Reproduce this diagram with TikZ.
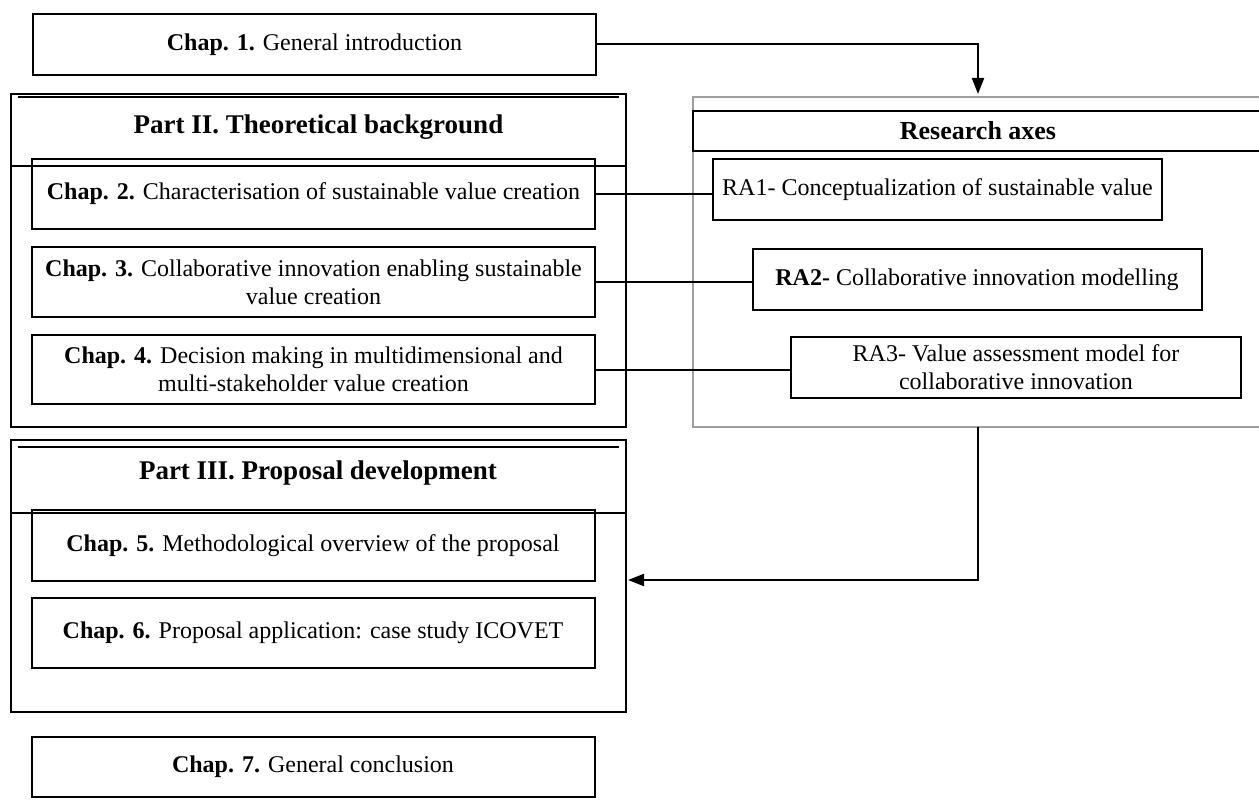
\documentclass[tikz,border=0pt]{standalone}
\usepackage{fontspec}
\setmainfont{Liberation Serif}
\usetikzlibrary{arrows.meta}

\begin{document}
\begin{tikzpicture}[x=1pt,y=-1pt,
  chapbox/.style={draw,line width=2pt,minimum width=563pt,inner sep=0pt,
    align=center,font=\fontsize{24}{28}\selectfont},
  axisbox/.style={draw,line width=2pt,minimum width=449pt,minimum height=61pt,
    inner sep=0pt,align=center,font=\fontsize{24}{28}\selectfont},
  partframe/.style={draw,line width=2pt,minimum width=615pt,inner sep=0pt},
  parttitle/.style={font=\bfseries\fontsize{27}{32}\selectfont},
  link/.style={line width=2pt},
  flow/.style={line width=2pt,-{Triangle[length=16pt,width=12pt]}}]
\useasboundingbox (0,0) rectangle (1259,800);
    % Part frames
\node[partframe,minimum height=333pt] (p2) at (318.5,260.5) {};
\draw[line width=2pt] ([xshift=8pt,yshift=-4pt]p2.north west) -- ([xshift=-8pt,yshift=-4pt]p2.north east);
\draw[link] ([yshift=-73pt]p2.north west) -- ([yshift=-73pt]p2.north east);
\node[parttitle] (p2title) at (318.5,127) {Part II. Theoretical background};
\node[partframe,minimum height=272pt] (p3) at (318.5,576) {};
\draw[line width=2pt] ([xshift=8pt,yshift=-8pt]p3.north west) -- ([xshift=-8pt,yshift=-8pt]p3.north east);
\draw[link] ([yshift=-74pt]p3.north west) -- ([yshift=-74pt]p3.north east);
\node[parttitle] (p3title) at (318,473) {Part III. Proposal development};
    % Research axes frame
\node[draw=gray!75,line width=1.6pt,minimum width=580pt,minimum height=330pt,inner sep=0pt] (axes) at (983,262) {};
\node[draw,line width=2pt,minimum width=570pt,minimum height=40pt,inner sep=0pt,
  font=\bfseries\fontsize{26}{30}\selectfont] (axhead) at (978,131) {Research axes};
    % Chapters
\node[chapbox,minimum height=61pt] (ch1) at (314.5,44.5) {\textbf{Chap. 1.} General introduction};
\node[chapbox,minimum height=70pt] (ch2) at (313.5,194) {\textbf{Chap. 2.} Characterisation of sustainable value creation};
\node[chapbox,minimum height=70pt] (ch3) at (313.5,282) {\textbf{Chap. 3.} Collaborative innovation enabling sustainable\\value creation};
\node[chapbox,minimum height=69pt] (ch4) at (313.5,369.5) {\textbf{Chap. 4.} Decision making in multidimensional and\\multi-stakeholder value creation};
\node[chapbox,minimum height=71pt] (ch5) at (313,545.5) {\textbf{Chap. 5.} Methodological overview of the proposal};
\node[chapbox,minimum height=70pt] (ch6) at (313,633) {\textbf{Chap. 6.} Proposal application: case study ICOVET};
\node[chapbox,minimum height=60pt] (ch7) at (313,767) {\textbf{Chap. 7.} General conclusion};
    % Research axes
\node[axisbox] (ra1) at (937.5,189.5) {RA1- Conceptualization of sustainable value};
\node[axisbox] (ra2) at (977,279.5) {\textbf{RA2-} Collaborative innovation modelling};
\node[axisbox,minimum width=450pt] (ra3) at (1016,367.5) {RA3- Value assessment model for\\collaborative innovation};
\foreach \c/\r in {ch2/ra1,ch3/ra2,ch4/ra3}
  \draw[link] (\c.east) -- (\c.east -| \r.west);
    % Flow arrows
\coordinate (axin) at (978,94);
\coordinate (axout) at (978,427);
\coordinate (p3in) at (628,580);
\draw[flow] (ch1.east) -| (axin);
\draw[flow] (axout) |- (p3in);
\end{tikzpicture}
\end{document}
